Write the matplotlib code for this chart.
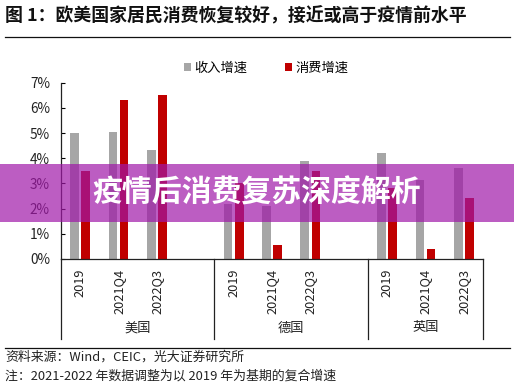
import matplotlib
matplotlib.use("Agg")
import matplotlib.pyplot as plt
from matplotlib.patches import Patch, Rectangle
from matplotlib.lines import Line2D
from matplotlib.transforms import blended_transform_factory
import numpy as np

plt.rcParams['font.family'] = ['Noto Sans CJK SC', 'DejaVu Sans']

# ---- data ----
groups = ["美国", "德国", "英国"]
periods = ["2019", "2021Q4", "2022Q3"]
income = [5.0, 5.05, 4.33, 2.2, 2.1, 3.9, 4.2, 3.15, 3.6]        # 收入增速 (%)
consumption = [3.5, 6.3, 6.5, 3.0, 0.54, 3.5, 2.8, 0.38, 2.42]  # 消费增速 (%)
series_names = ["收入增速", "消费增速"]
yticks = [0, 1, 2, 3, 4, 5, 6, 7]

title = "图 1：欧美国家居民消费恢复较好，接近或高于疫情前水平"
source = "资料来源：Wind，CEIC，光大证券研究所"
note = "注：2021-2022 年数据调整为以 2019 年为基期的复合增速"
banner = "疫情后消费复苏深度解析"

gray = "#A6A6A6"
red = "#C00000"

W, H = 514, 386
fig = plt.figure(figsize=(W / 100, H / 100), dpi=100)

# axes placement (pixels)
ax_l, ax_r, ax_top, ax_bot = 61, 483, 82.7, 259
ax = fig.add_axes([ax_l / W, 1 - ax_bot / H, (ax_r - ax_l) / W, (ax_bot - ax_top) / H])

# 11 slots: 3 cats + blank, 3 cats + blank, 3 cats
positions = []
for gi in range(len(groups)):
    for pi in range(len(periods)):
        positions.append(gi * 4 + pi)
positions = np.array(positions, dtype=float)

bw = 0.225
off = 0.145
ax.bar(positions - off, income, width=bw, color=gray, zorder=2)
ax.bar(positions + off, consumption, width=bw, color=red, zorder=2)

ax.set_xlim(-0.5, 10.5)
ax.set_ylim(0, 7)
ax.set_yticks(yticks)
ax.set_yticklabels([f"{v}%" for v in yticks], fontsize=9.8, color="#222222")
ax.tick_params(axis='y', direction='in', length=3, width=0.8, pad=8)
ax.set_xticks(positions)
ax.set_xticklabels(periods * len(groups), rotation=90, fontsize=9.2, color="#222222")
ax.tick_params(axis='x', length=0, pad=7)
for s in ["top", "right"]:
    ax.spines[s].set_visible(False)
for s in ["left", "bottom"]:
    ax.spines[s].set_linewidth(0.9)
    ax.spines[s].set_color("#222222")

# group separators and labels
trans = blended_transform_factory(ax.transData, ax.transAxes)
sep_bottom = -(339 - ax_bot) / (ax_bot - ax_top)
for xs in [-0.5, 3.5, 7.5, 10.5]:
    ax.add_line(Line2D([xs, xs], [0, sep_bottom], transform=trans, color="#222222",
                       lw=0.9, clip_on=False))
group_centers = [1.5, 5.5, 9.0]
lab_y = -(328 - ax_bot) / (ax_bot - ax_top)
for gc, g in zip(group_centers, groups):
    ax.text(gc, lab_y, g, transform=trans, ha='center', va='center', fontsize=9.5,
            color="#222222")

# legend
handles = [Patch(facecolor=gray, edgecolor='none'), Patch(facecolor=red, edgecolor='none')]
fig.legend(handles, series_names, loc='center', bbox_to_anchor=(266 / W, 1 - 68 / H),
           ncol=2, frameon=False, fontsize=9.5, handlelength=0.55, handleheight=0.55,
           handletextpad=0.2, columnspacing=2.9, borderpad=0)

# title and rules
fig.text(5 / W, 1 - 16.5 / H, title, fontsize=12.9, fontweight='heavy', va='center',
         ha='left', color="#111111")
fig.add_artist(Line2D([5 / W, 510 / W], [1 - 37.3 / H] * 2, transform=fig.transFigure,
                      color="#111111", lw=0.9))
fig.add_artist(Line2D([5 / W, 510 / W], [1 - 348.3 / H] * 2, transform=fig.transFigure,
                      color="#111111", lw=0.9))
fig.text(5 / W, 1 - 357.3 / H, source, fontsize=9.3, va='center', ha='left', color="#222222")
fig.text(5 / W, 1 - 375.7 / H, note, fontsize=9.3, va='center', ha='left', color="#222222")

# overlay banner
fig.add_artist(Rectangle((0, 1 - 222 / H), 1, 58 / H, transform=fig.transFigure,
                         facecolor=(160 / 255, 24 / 255, 168 / 255), alpha=0.7,
                         edgecolor='none', zorder=10))
fig.text(257 / W, 1 - 193 / H, banner, fontsize=21.5, fontweight='black', color='white',
         ha='center', va='center', zorder=11)

fig.savefig("out.png", dpi=100)
